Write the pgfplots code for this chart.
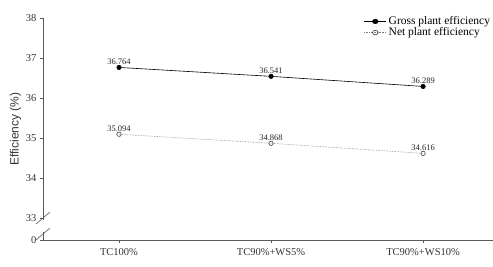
\documentclass[border=0pt]{standalone}
\usepackage{fontspec}
\setmainfont{Liberation Serif}
\setsansfont{Liberation Sans}
\usepackage{pgfplots}
\pgfplotsset{compat=1.18}
\begin{document}
\begin{tikzpicture}
\useasboundingbox (-43pt,-26pt) rectangle (450pt,240pt);
\begin{axis}[
  at={(0pt,0pt)}, anchor=south west,
  scale only axis,
  width=450pt, height=222pt,
  xmin=-0.5, xmax=2.46,
  ymin=32.45, ymax=38,
  axis x line*=bottom,
  axis y line*=left,
  axis line style={gray!70!black, line width=0.8pt},
  xtick={0,1,2},
  xticklabels={TC100\%, TC90\%+WS5\%, TC90\%+WS10\%},
  ytick={32.45,33,34,35,36,37,38},
  yticklabels={0,33,34,35,36,37,38},
  tick align=outside,
  major tick length=3pt,
  tick style={gray!70!black, line width=0.6pt},
  tick label style={font=\fontsize{10.5}{12}\selectfont, text=black!80},
  x tick label style={yshift=-2pt},
  ylabel={\sffamily Efficiency (\%)},
  ylabel style={font=\fontsize{12}{14}\selectfont, text=black!80, yshift=-2pt},
  /pgf/number format/assume math mode=true,
  legend style={draw=none, fill=none, at={(1.005,1.025)}, anchor=north east,
     font=\fontsize{11.5}{13}\selectfont, row sep=-2.5pt, cells={anchor=west}},
  legend cell align=left,
  legend image post style={xscale=1.3},
  clip=false,
  nodes near coords,
  nodes near coords style={/pgf/number format/fixed, /pgf/number format/precision=3, /pgf/number format/zerofill},
  every node near coord/.append style={font=\fontsize{8.5}{9}\selectfont, text=black!85, yshift=-1pt},
]
\addplot[black, line width=0.6pt, mark=*, mark size=2.2pt, mark options={fill=black}]
  coordinates {(0,36.764) (1,36.541) (2,36.289)};
\addlegendentry{Gross plant efficiency}
\addplot[gray, densely dotted, line width=0.6pt, mark=o, mark size=2.2pt, mark options={solid, black!75, line width=0.6pt, fill=white}]
  coordinates {(0,35.094) (1,34.868) (2,34.616)};
\addlegendentry{Net plant efficiency}
% axis break
\fill[white] (axis cs:-0.52,32.66) rectangle (axis cs:-0.48,32.95);
\draw[gray!70!black, line width=0.6pt] ([xshift=-7pt,yshift=-6pt]axis cs:-0.5,33.0) -- ([xshift=7pt,yshift=6pt]axis cs:-0.5,33.0);
\draw[gray!70!black, line width=0.6pt] ([xshift=-7pt,yshift=-6pt]axis cs:-0.5,32.6) -- ([xshift=7pt,yshift=6pt]axis cs:-0.5,32.6);
\end{axis}
\end{tikzpicture}
\end{document}
